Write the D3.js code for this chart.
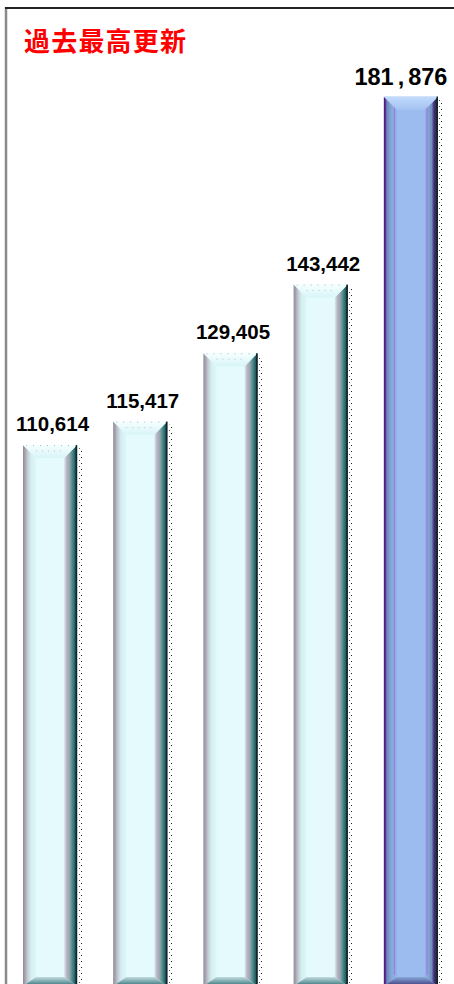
<!DOCTYPE html>
<html><head><meta charset="utf-8">
<script src="https://cdn.jsdelivr.net/npm/d3@7"></script>
<style>html,body{margin:0;padding:0;background:#fff;overflow:hidden}</style>
</head><body><svg id="c" width="454" height="984"></svg>
<script>
// ---- data ----
const categories = ["1", "2", "3", "4", "5"];
const values = [110614, 115417, 129405, 143442, 181876];
const valueLabels = ["110,614", "115,417", "129,405", "143,442", "181,876"];
const highlighted = [false, false, false, false, true];
const titleText = "過去最高更新";

// ---- drawing ----
const W = 454, H = 984;
const svg = d3.select("#c");
const defs = svg.append("defs");

const x = d3.scaleBand().domain(categories).range([23, 438]).paddingInner(0.4).paddingOuter(0);
const y = d3.scaleLinear().domain([0, 200000]).range([986, 8]);

function grad(id, stops, vertical) {
  const g = defs.append("linearGradient").attr("id", id)
    .attr("x1", 0).attr("y1", 0).attr("x2", vertical ? 0 : 1).attr("y2", vertical ? 1 : 0);
  stops.forEach(s => g.append("stop").attr("offset", s[0]).attr("stop-color", s[1]));
}
const themes = {
  normal: {
    face: "#e4fafd",
    left: [[0, "#8c8c96"], [0.15, "#a8a2ae"], [0.35, "#c2cad2"], [0.6, "#d4edf1"], [1, "#dcf7fa"]],
    right: [[0, "#d6ecf0"], [0.2, "#bcb4c6"], [0.4, "#9aa8b2"], [0.58, "#5a9292"], [0.8, "#2a686c"], [1, "#14303a"]],
    top: [[0, "#f6ffff"], [1, "#d8f4f7"]],
    bottom: [[0, "#c4dce2"], [0.5, "#7aa8ac"], [1, "#2e6e72"]],
    inner: null
  },
  hi: {
    face: "#9cbcf0",
    left: [[0, "#4a1878"], [0.12, "#5c2a8e"], [0.22, "#6a86b6"], [0.55, "#86a6da"], [1, "#94b4ea"]],
    right: [[0, "#94b2e6"], [0.25, "#86a4d4"], [0.5, "#7090be"], [0.7, "#4a2a82"], [0.85, "#22303e"], [1, "#101c24"]],
    top: [[0, "#c2dcfc"], [1, "#a4c2f2"]],
    bottom: [[0, "#8aa8d8"], [1, "#3a3a7a"]],
    inner: "#9c7ce4"
  }
};
Object.entries(themes).forEach(([k, t]) => {
  grad(k + "L", t.left, false);
  grad(k + "R", t.right, false);
  grad(k + "T", t.top, true);
  grad(k + "B", t.bottom, true);
});
const pat = defs.append("pattern").attr("id", "dots").attr("patternUnits", "userSpaceOnUse")
  .attr("width", 9).attr("height", 6);
pat.append("rect").attr("x", 0).attr("y", 1).attr("width", 1).attr("height", 1).attr("fill", "#222");
pat.append("rect").attr("x", 7).attr("y", 4).attr("width", 1).attr("height", 1).attr("fill", "#555");

// frame
svg.append("line").attr("x1", 6).attr("x2", 6).attr("y1", 7).attr("y2", H)
  .attr("stroke", "#8a8a8a").attr("stroke-width", 2.5);
svg.append("line").attr("x1", 5).attr("x2", W).attr("y1", 8).attr("y2", 8)
  .attr("stroke", "#222").attr("stroke-width", 2);

// title
svg.append("text").attr("x", 24).attr("y", 50.5).text(titleText)
  .attr("fill", "#ff0000").attr("font-family", "'Noto Sans CJK JP', sans-serif")
  .attr("font-weight", "bold").attr("font-size", 26).attr("letter-spacing", 1.2);

const data = categories.map((c, i) => ({ c, v: values[i], label: valueLabels[i], hi: highlighted[i] }));
const bw = x.bandwidth();
const bs = 13, bt = 13, bb = 9;

const g = svg.selectAll("g.bar").data(data).join("g").attr("class", "bar");
g.each(function (d) {
  const s = d3.select(this);
  const k = d.hi ? "hi" : "normal";
  const t = themes[k];
  const x0 = x(d.c), x1 = x0 + bw, top = y(d.v), bot = y(0);
  // shadow dots
  s.append("rect").attr("x", x1 + 1).attr("y", top + 3).attr("width", 9).attr("height", bot - top)
    .attr("fill", "url(#dots)");
  // face
  s.append("rect").attr("x", x0).attr("y", top).attr("width", bw).attr("height", bot - top).attr("fill", t.face);
  // left bevel
  s.append("polygon").attr("points", [[x0, top], [x0 + bs, top + bt], [x0 + bs, bot - bb], [x0, bot]].join(" "))
    .attr("fill", `url(#${k}L)`);
  // right bevel
  s.append("polygon").attr("points", [[x1, top], [x1 - bs, top + bt], [x1 - bs, bot - bb], [x1, bot]].join(" "))
    .attr("fill", `url(#${k}R)`);
  // top bevel
  s.append("polygon").attr("points", [[x0, top], [x1, top], [x1 - bs, top + bt], [x0 + bs, top + bt]].join(" "))
    .attr("fill", `url(#${k}T)`);
  // bottom bevel
  s.append("polygon").attr("points", [[x0, bot], [x1, bot], [x1 - bs, bot - bb], [x0 + bs, bot - bb]].join(" "))
    .attr("fill", `url(#${k}B)`);
  if (t.inner) {
    s.append("rect").attr("x", x0 + bs - 3).attr("y", top + bt - 2).attr("width", 1.2).attr("height", bot - top - bt - bb)
      .attr("fill", t.inner);
    s.append("rect").attr("x", x1 - bs + 1.5).attr("y", top + bt - 2).attr("width", 1.2).attr("height", bot - top - bt - bb)
      .attr("fill", t.inner);
  } else {
    s.append("line").attr("x1", x0 + bs).attr("x2", x1 - bs).attr("y1", top + 6).attr("y2", top + 6)
      .attr("stroke", "#b8c4c8").attr("stroke-width", 1).attr("stroke-dasharray", "1 5");
    s.append("line").attr("x1", x0 + 3).attr("x2", x1 - 3).attr("y1", top + 0.5).attr("y2", top + 0.5)
      .attr("stroke", "#a8b8bc").attr("stroke-width", 1).attr("stroke-dasharray", "1 6");
  }
  // dark right edge
  s.append("rect").attr("x", x1 - 1.5).attr("y", top).attr("width", 1.5).attr("height", bot - top).attr("fill", "#10242a");

  // label
  const txt = s.append("text").attr("text-anchor", "middle")
    .attr("font-family", "'Liberation Sans', Arial, sans-serif").attr("font-weight", "bold").attr("fill", "#000");
  if (d.hi) {
    const parts = d.label.split(",");
    txt.attr("x", x0 + bw / 2 - 10).attr("y", top - 11.5).attr("font-size", 23.5);
    txt.append("tspan").text(parts[0]);
    txt.append("tspan").attr("dx", 4).text(",");
    txt.append("tspan").attr("dx", 4).text(parts[1]);
  } else {
    txt.attr("x", x0 + bw / 2 + 2.5).attr("y", top - 14).attr("font-size", 20.5).text(d.label);
  }
});
</script>
</body></html>
